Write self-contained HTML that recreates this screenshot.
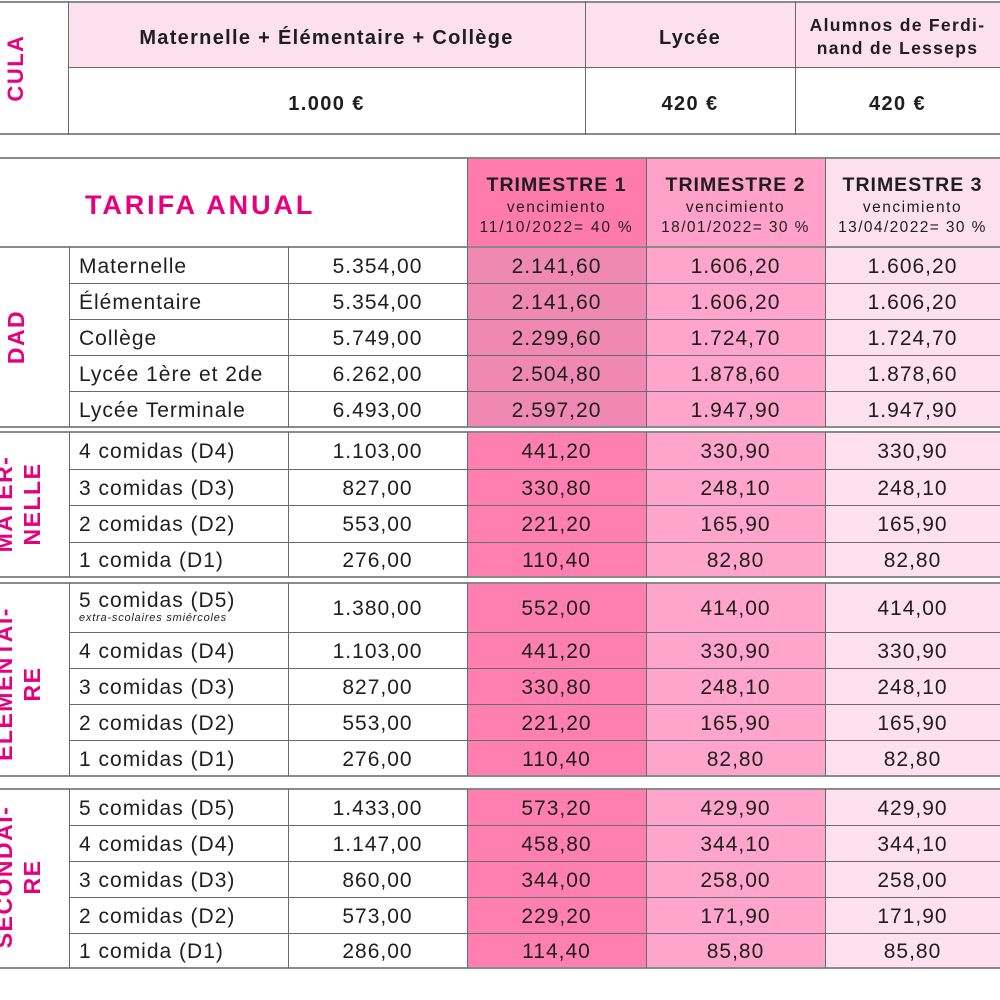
<!DOCTYPE html>
<html><head><meta charset="utf-8">
<style>
*{margin:0;padding:0;box-sizing:border-box}
body{width:1000px;height:1000px;background:#fff;overflow:hidden;font-family:"Liberation Sans",Arial,sans-serif;color:#1e1e1e}
#p{position:relative;width:1000px;height:1000px;overflow:hidden}
.a{position:absolute}
.h{position:absolute;height:1px;background:#6a6a6a}
.hg{position:absolute;height:2px;background:#8a8a8a}
.v{position:absolute;width:1px;background:#6a6a6a}
.row{position:absolute;left:0;width:1000px;display:flex;font-size:21px;letter-spacing:1px}
.row div{height:100%;display:flex;align-items:center;justify-content:center;white-space:nowrap;padding-top:3px}
.row .l{width:69px}
.row .n{width:219px;justify-content:flex-start;padding-left:10px}
.row .m{width:179px}
.row .t1{width:179px;background:#ff80b0}
.row .t1d{width:179px;background:#ef89b4}
.row .t2{width:179px;background:#ffa4ca}
.row .t3{width:175px;background:#ffe0ee}
.rot{position:absolute;width:240px;height:60px;display:flex;align-items:center;justify-content:center;text-align:center;transform:rotate(-90deg);color:#e6007e;font-weight:bold;font-size:23px;letter-spacing:1.5px;line-height:28px;white-space:nowrap}
.b{font-weight:bold}
.c{position:absolute;text-align:center;white-space:nowrap}
</style></head><body><div id="p">

<!-- TOP TABLE -->
<div class="a" style="left:68px;top:2px;width:932px;height:66px;background:#fde0ed"></div>
<div class="h" style="left:0;top:1px;width:1000px;height:2px;background:#8a8a8a"></div>
<div class="h" style="left:68px;top:67px;width:932px"></div>
<div class="h" style="left:0;top:133px;width:1000px;height:2px;background:#8a8a8a"></div>
<div class="v" style="left:68px;top:1px;height:134px"></div>
<div class="v" style="left:585px;top:1px;height:134px"></div>
<div class="v" style="left:795px;top:1px;height:134px"></div>

<div class="rot" style="left:-118px;top:38px;font-size:22px">MATRÍ-<br>CULA</div>

<div class="c b" style="left:68px;width:517px;top:26px;font-size:20px;letter-spacing:1.3px;line-height:24px">Maternelle + Élémentaire + Collège</div>
<div class="c b" style="left:585px;width:210px;top:26px;font-size:20px;letter-spacing:1.2px;line-height:24px">Lycée</div>
<div class="c b" style="left:795px;width:205px;top:14px;font-size:17.5px;letter-spacing:1.3px;line-height:23px">Alumnos de Ferdi-<br>nand de Lesseps</div>

<div class="c b" style="left:68px;width:517px;top:92px;font-size:20px;letter-spacing:1.4px;line-height:24px">1.000 €</div>
<div class="c b" style="left:585px;width:210px;top:92px;font-size:20px;letter-spacing:1.4px;line-height:24px">420 €</div>
<div class="c b" style="left:795px;width:205px;top:92px;font-size:20px;letter-spacing:1.4px;line-height:24px">420 €</div>

<!-- SECOND TABLE HEADER -->
<div class="a" style="left:467px;top:158px;width:179px;height:89px;background:#ff7bab"></div>
<div class="a" style="left:646px;top:158px;width:179px;height:89px;background:#ffa1c8"></div>
<div class="a" style="left:825px;top:158px;width:175px;height:89px;background:#fde0ed"></div>
<div class="h" style="left:0;top:157px;width:1000px;height:2px;background:#8a8a8a"></div>
<div class="v" style="left:467px;top:158px;height:89px"></div>
<div class="v" style="left:646px;top:158px;height:89px"></div>
<div class="v" style="left:825px;top:158px;height:89px"></div>

<div class="a b" style="left:85px;top:189px;font-size:27px;letter-spacing:2.9px;line-height:32px;color:#e6007e;white-space:nowrap">TARIFA ANUAL</div>

<div class="c" style="left:467px;width:179px;top:173px;line-height:20px">
<div class="b" style="font-size:19.5px;letter-spacing:1px;line-height:25px">TRIMESTRE 1</div>
<div style="font-size:15.5px;letter-spacing:1.5px;line-height:19px">vencimiento</div>
<div style="font-size:15.5px;letter-spacing:1.8px;line-height:21px">11/10/2022= 40 %</div>
</div>
<div class="c" style="left:646px;width:179px;top:173px;line-height:20px">
<div class="b" style="font-size:19.5px;letter-spacing:1px;line-height:25px">TRIMESTRE 2</div>
<div style="font-size:15.5px;letter-spacing:1.5px;line-height:19px">vencimiento</div>
<div style="font-size:15.5px;letter-spacing:1.4px;line-height:21px">18/01/2022= 30 %</div>
</div>
<div class="c" style="left:825px;width:175px;top:173px;line-height:20px">
<div class="b" style="font-size:19.5px;letter-spacing:1px;line-height:25px">TRIMESTRE 3</div>
<div style="font-size:15.5px;letter-spacing:1.5px;line-height:19px">vencimiento</div>
<div style="font-size:15.5px;letter-spacing:1.4px;line-height:21px">13/04/2022= 30 %</div>
</div>

<!-- GROUP 1 : DAD (247-427) -->
<div class="row" style="top:247px;height:36px"><div class="l"></div><div class="n">Maternelle</div><div class="m">5.354,00</div><div class="t1d">2.141,60</div><div class="t2">1.606,20</div><div class="t3">1.606,20</div></div>
<div class="row" style="top:283px;height:36px"><div class="l"></div><div class="n">Élémentaire</div><div class="m">5.354,00</div><div class="t1d">2.141,60</div><div class="t2">1.606,20</div><div class="t3">1.606,20</div></div>
<div class="row" style="top:319px;height:36px"><div class="l"></div><div class="n">Collège</div><div class="m">5.749,00</div><div class="t1d">2.299,60</div><div class="t2">1.724,70</div><div class="t3">1.724,70</div></div>
<div class="row" style="top:355px;height:36px"><div class="l"></div><div class="n">Lycée 1ère et 2de</div><div class="m">6.262,00</div><div class="t1d">2.504,80</div><div class="t2">1.878,60</div><div class="t3">1.878,60</div></div>
<div class="row" style="top:391px;height:36px"><div class="l"></div><div class="n">Lycée Terminale</div><div class="m">6.493,00</div><div class="t1d">2.597,20</div><div class="t2">1.947,90</div><div class="t3">1.947,90</div></div>

<div class="hg" style="left:0;top:246px;width:1000px"></div>
<div class="h" style="left:69px;top:283px;width:931px"></div>
<div class="h" style="left:69px;top:319px;width:931px"></div>
<div class="h" style="left:69px;top:355px;width:931px"></div>
<div class="h" style="left:69px;top:391px;width:931px"></div>
<div class="hg" style="left:0;top:426px;width:1000px"></div>
<div class="v" style="left:69px;top:247px;height:180px"></div>
<div class="v" style="left:288px;top:247px;height:180px"></div>
<div class="v" style="left:467px;top:247px;height:180px"></div>
<div class="v" style="left:646px;top:247px;height:180px"></div>
<div class="v" style="left:825px;top:247px;height:180px"></div>
<div class="rot" style="left:-104px;top:307px">DAD</div>

<!-- GROUP 2 : MATERNELLE (432-577) -->
<div class="row" style="top:432px;height:37px"><div class="l"></div><div class="n">4 comidas (D4)</div><div class="m">1.103,00</div><div class="t1">441,20</div><div class="t2">330,90</div><div class="t3">330,90</div></div>
<div class="row" style="top:469px;height:36px"><div class="l"></div><div class="n">3 comidas (D3)</div><div class="m">827,00</div><div class="t1">330,80</div><div class="t2">248,10</div><div class="t3">248,10</div></div>
<div class="row" style="top:505px;height:37px"><div class="l"></div><div class="n">2 comidas (D2)</div><div class="m">553,00</div><div class="t1">221,20</div><div class="t2">165,90</div><div class="t3">165,90</div></div>
<div class="row" style="top:542px;height:35px"><div class="l"></div><div class="n">1 comida (D1)</div><div class="m">276,00</div><div class="t1">110,40</div><div class="t2">82,80</div><div class="t3">82,80</div></div>

<div class="hg" style="left:0;top:431px;width:1000px"></div>
<div class="h" style="left:69px;top:469px;width:931px"></div>
<div class="h" style="left:69px;top:505px;width:931px"></div>
<div class="h" style="left:69px;top:542px;width:931px"></div>
<div class="hg" style="left:0;top:576px;width:1000px"></div>
<div class="v" style="left:69px;top:432px;height:145px"></div>
<div class="v" style="left:288px;top:432px;height:145px"></div>
<div class="v" style="left:467px;top:432px;height:145px"></div>
<div class="v" style="left:646px;top:432px;height:145px"></div>
<div class="v" style="left:825px;top:432px;height:145px"></div>
<div class="rot" style="left:-102px;top:474px">MATER-<br>NELLE</div>

<!-- GROUP 3 : ELEMENTAIRE (583-776) -->
<div class="row" style="top:583px;height:49px"><div class="l"></div><div class="n" style="flex-direction:column;align-items:flex-start;justify-content:center;padding-top:0"><span style="line-height:23px;margin-top:-1px">5 comidas (D5)</span><span style="font-size:11px;font-style:italic;letter-spacing:0.8px;line-height:13px">extra-scolaires smiércoles</span></div><div class="m">1.380,00</div><div class="t1">552,00</div><div class="t2">414,00</div><div class="t3">414,00</div></div>
<div class="row" style="top:632px;height:36px"><div class="l"></div><div class="n">4 comidas (D4)</div><div class="m">1.103,00</div><div class="t1">441,20</div><div class="t2">330,90</div><div class="t3">330,90</div></div>
<div class="row" style="top:668px;height:36px"><div class="l"></div><div class="n">3 comidas (D3)</div><div class="m">827,00</div><div class="t1">330,80</div><div class="t2">248,10</div><div class="t3">248,10</div></div>
<div class="row" style="top:704px;height:36px"><div class="l"></div><div class="n">2 comidas (D2)</div><div class="m">553,00</div><div class="t1">221,20</div><div class="t2">165,90</div><div class="t3">165,90</div></div>
<div class="row" style="top:740px;height:36px"><div class="l"></div><div class="n">1 comidas (D1)</div><div class="m">276,00</div><div class="t1">110,40</div><div class="t2">82,80</div><div class="t3">82,80</div></div>

<div class="hg" style="left:0;top:582px;width:1000px"></div>
<div class="h" style="left:69px;top:632px;width:931px"></div>
<div class="h" style="left:69px;top:668px;width:931px"></div>
<div class="h" style="left:69px;top:704px;width:931px"></div>
<div class="h" style="left:69px;top:740px;width:931px"></div>
<div class="hg" style="left:0;top:775px;width:1000px"></div>
<div class="v" style="left:69px;top:583px;height:193px"></div>
<div class="v" style="left:288px;top:583px;height:193px"></div>
<div class="v" style="left:467px;top:583px;height:193px"></div>
<div class="v" style="left:646px;top:583px;height:193px"></div>
<div class="v" style="left:825px;top:583px;height:193px"></div>
<div class="rot" style="left:-102px;top:654px">ELEMENTAI-<br>RE</div>

<!-- GROUP 4 : SECONDAIRE (789-968) -->
<div class="row" style="top:789px;height:36px"><div class="l"></div><div class="n">5 comidas (D5)</div><div class="m">1.433,00</div><div class="t1">573,20</div><div class="t2">429,90</div><div class="t3">429,90</div></div>
<div class="row" style="top:825px;height:36px"><div class="l"></div><div class="n">4 comidas (D4)</div><div class="m">1.147,00</div><div class="t1">458,80</div><div class="t2">344,10</div><div class="t3">344,10</div></div>
<div class="row" style="top:861px;height:36px"><div class="l"></div><div class="n">3 comidas (D3)</div><div class="m">860,00</div><div class="t1">344,00</div><div class="t2">258,00</div><div class="t3">258,00</div></div>
<div class="row" style="top:897px;height:36px"><div class="l"></div><div class="n">2 comidas (D2)</div><div class="m">573,00</div><div class="t1">229,20</div><div class="t2">171,90</div><div class="t3">171,90</div></div>
<div class="row" style="top:933px;height:35px"><div class="l"></div><div class="n">1 comida (D1)</div><div class="m">286,00</div><div class="t1">114,40</div><div class="t2">85,80</div><div class="t3">85,80</div></div>

<div class="hg" style="left:0;top:788px;width:1000px"></div>
<div class="h" style="left:69px;top:825px;width:931px"></div>
<div class="h" style="left:69px;top:861px;width:931px"></div>
<div class="h" style="left:69px;top:897px;width:931px"></div>
<div class="h" style="left:69px;top:933px;width:931px"></div>
<div class="hg" style="left:0;top:967px;width:1000px"></div>
<div class="v" style="left:69px;top:789px;height:179px"></div>
<div class="v" style="left:288px;top:789px;height:179px"></div>
<div class="v" style="left:467px;top:789px;height:179px"></div>
<div class="v" style="left:646px;top:789px;height:179px"></div>
<div class="v" style="left:825px;top:789px;height:179px"></div>
<div class="rot" style="left:-102px;top:847px">SECONDAI-<br>RE</div>

</div></body></html>
